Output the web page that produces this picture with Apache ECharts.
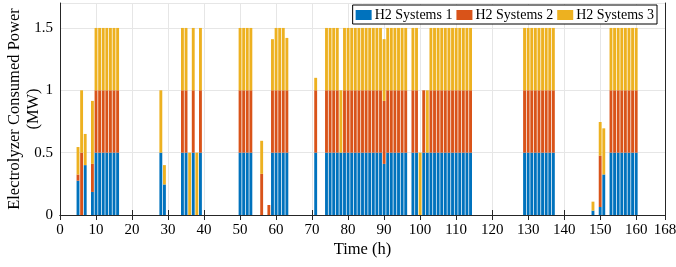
<!DOCTYPE html>
<html>
<head>
<meta charset="utf-8">
<script src="https://cdn.jsdelivr.net/npm/echarts@6/dist/echarts.min.js"></script>
<style>
  html, body { margin: 0; padding: 0; background: #fff; }
  #chart { width: 676px; height: 267px; }
</style>
</head>
<body>
<div id="chart"></div>
<script>
// hours with non-zero power, and the power of each H2 system (MW)
const hours = [5, 6, 7, 9, 10, 11, 12, 13, 14, 15, 16, 28, 29,
  34, 35, 36, 37, 38, 39, 50, 51, 52, 53, 56, 58, 59, 60, 61, 62, 63, 71,
  74, 75, 76, 77, 78, 79, 80, 81, 82, 83, 84, 85, 86, 87, 88, 89, 90,
  91, 92, 93, 94, 95, 96, 98, 99, 100, 101, 102,
  103, 104, 105, 106, 107, 108, 109, 110, 111, 112, 113, 114,
  129, 130, 131, 132, 133, 134, 135, 136, 137,
  148, 150, 151, 153, 154, 155, 156, 157, 158, 159, 160];

const sys1 = [0.275, 0, 0.4, 0.185, 0.5, 0.5, 0.5, 0.5, 0.5, 0.5, 0.5, 0.5, 0.245,
  0.5, 0.5, 0, 0.5, 0, 0.5, 0.5, 0.5, 0.5, 0.5, 0, 0, 0.5, 0.5, 0.5, 0.5, 0.5, 0.5,
  0.5, 0.5, 0.5, 0.5, 0.5, 0.5, 0.5, 0.5, 0.5, 0.5, 0.5, 0.5, 0.5, 0.5, 0.5, 0.5, 0.41,
  0.5, 0.5, 0.5, 0.5, 0.5, 0.5, 0.5, 0.5, 0, 0.5, 0.5,
  0.5, 0.5, 0.5, 0.5, 0.5, 0.5, 0.5, 0.5, 0.5, 0.5, 0.5, 0.5,
  0.5, 0.5, 0.5, 0.5, 0.5, 0.5, 0.5, 0.5, 0.5,
  0.035, 0.064, 0.325, 0.5, 0.5, 0.5, 0.5, 0.5, 0.5, 0.5, 0.5];

const sys2 = [0.05, 0.5, 0, 0.225, 0.5, 0.5, 0.5, 0.5, 0.5, 0.5, 0.5, 0, 0,
  0.5, 0.5, 0, 0.5, 0, 0.5, 0.5, 0.5, 0.5, 0.5, 0.33, 0.08, 0.5, 0.5, 0.5, 0.5, 0.5, 0.5,
  0.5, 0.5, 0.5, 0.5, 0, 0.5, 0.5, 0.5, 0.5, 0.5, 0.5, 0.5, 0.5, 0.5, 0.5, 0.5, 0.505,
  0.5, 0.5, 0.5, 0.5, 0.5, 0.5, 0.5, 0.5, 0, 0.5, 0,
  0.5, 0.5, 0.5, 0.5, 0.5, 0.5, 0.5, 0.5, 0.5, 0.5, 0.5, 0.5,
  0.5, 0.5, 0.5, 0.5, 0.5, 0.5, 0.5, 0.5, 0.5,
  0, 0.412, 0, 0.5, 0.5, 0.5, 0.5, 0.5, 0.5, 0.5, 0.5];

const sys3 = [0.22, 0.5, 0.25, 0.505, 0.5, 0.5, 0.5, 0.5, 0.5, 0.5, 0.5, 0.5, 0.155,
  0.5, 0.5, 0.5, 0.5, 0.5, 0.5, 0.5, 0.5, 0.5, 0.5, 0.265, 0, 0.41, 0.5, 0.5, 0.5, 0.42, 0.1,
  0.5, 0.5, 0.5, 0.5, 0.5, 0.5, 0.5, 0.5, 0.5, 0.5, 0.5, 0.5, 0.5, 0.5, 0.5, 0.5, 0.495,
  0.5, 0.5, 0.5, 0.5, 0.5, 0.5, 0.5, 0.5, 0.5, 0, 0.5,
  0.5, 0.5, 0.5, 0.5, 0.5, 0.5, 0.5, 0.5, 0.5, 0.5, 0.5, 0.5,
  0.5, 0.5, 0.5, 0.5, 0.5, 0.5, 0.5, 0.5, 0.5,
  0.072, 0.27, 0.37, 0.5, 0.5, 0.5, 0.5, 0.5, 0.5, 0.5, 0.5];

const names = ['H2 Systems 1', 'H2 Systems 2', 'H2 Systems 3'];
const colors = ['#0072BD', '#D95319', '#EDB120'];

const font = 'Liberation Serif';
const axisColor = '#262626';

// one category per hour 0..168; ticks every 10 h plus the last hour
const timeCats = [];
for (let i = 0; i <= 168; i++) timeCats.push(String(i));
const isTick = i => i % 10 === 0 || i === 168;

const chart = echarts.init(document.getElementById('chart'));

function makeSeries(vals, i) {
  const full = timeCats.map(() => 0);
  hours.forEach((h, k) => { full[h] = vals[k]; });
  return {
    name: names[i],
    type: 'bar',
    stack: 'power',
    barWidth: '80%',
    itemStyle: { color: colors[i] },
    data: full
  };
}

chart.setOption({
  animation: false,
  textStyle: { fontFamily: font },
  grid: { left: 60, right: 11, top: 3, bottom: 52, containLabel: false, outerBoundsMode: 'none' },
  legend: {
    data: names,
    right: 19,
    top: 5,
    icon: 'rect',
    itemWidth: 16,
    itemHeight: 10,
    itemGap: 4,
    padding: [3, 3, 2, 3],
    borderColor: '#000',
    borderWidth: 1,
    backgroundColor: '#fff',
    textStyle: { fontFamily: font, fontSize: 14, color: '#000', padding: [0, 0, 0, -2] }
  },
  xAxis: [{
    type: 'category',
    data: timeCats,
    boundaryGap: false,
    name: 'Time (h)',
    nameLocation: 'middle',
    nameGap: 26,
    nameMoveOverlap: false,
    nameTextStyle: { fontFamily: font, fontSize: 16.5, color: '#000' },
    axisLine: { show: true, lineStyle: { color: axisColor } },
    axisTick: { inside: true, length: 5, interval: isTick, lineStyle: { color: axisColor } },
    axisLabel: { fontFamily: font, fontSize: 15, color: '#000', margin: 8, interval: isTick },
    splitLine: { show: true, interval: isTick, lineStyle: { color: '#e6e6e6' } }
  }, {
    type: 'category',
    data: timeCats,
    boundaryGap: false,
    position: 'top',
    axisLine: { show: true, lineStyle: { color: axisColor } },
    axisTick: { inside: true, length: 5, interval: isTick, lineStyle: { color: axisColor } },
    axisLabel: { show: false },
    splitLine: { show: false }
  }],
  yAxis: [{
    type: 'value',
    min: 0,
    max: 1.7,
    interval: 0.5,
    name: 'Electrolyzer Consumed Power\n(MW)',
    nameLocation: 'middle',
    nameRotate: 90,
    nameGap: 17,
    nameMoveOverlap: false,
    nameTextStyle: { fontFamily: font, fontSize: 16.5, color: '#000', lineHeight: 19, align: 'center' },
    axisLine: { show: true, lineStyle: { color: axisColor } },
    axisTick: { inside: true, length: 5, lineStyle: { color: axisColor } },
    axisLabel: {
      fontFamily: font, fontSize: 15, color: '#000', margin: 7,
      formatter: v => (v > 1.6 ? '' : String(v))
    },
    splitLine: { show: true, lineStyle: { color: '#e6e6e6' } }
  }, {
    type: 'value',
    position: 'right',
    min: 0,
    max: 1.7,
    interval: 0.5,
    axisLine: { show: true, lineStyle: { color: axisColor } },
    axisTick: { inside: true, length: 5, lineStyle: { color: axisColor } },
    axisLabel: { show: false },
    splitLine: { show: false }
  }],
  series: [sys1, sys2, sys3].map(makeSeries)
});
</script>
</body>
</html>
